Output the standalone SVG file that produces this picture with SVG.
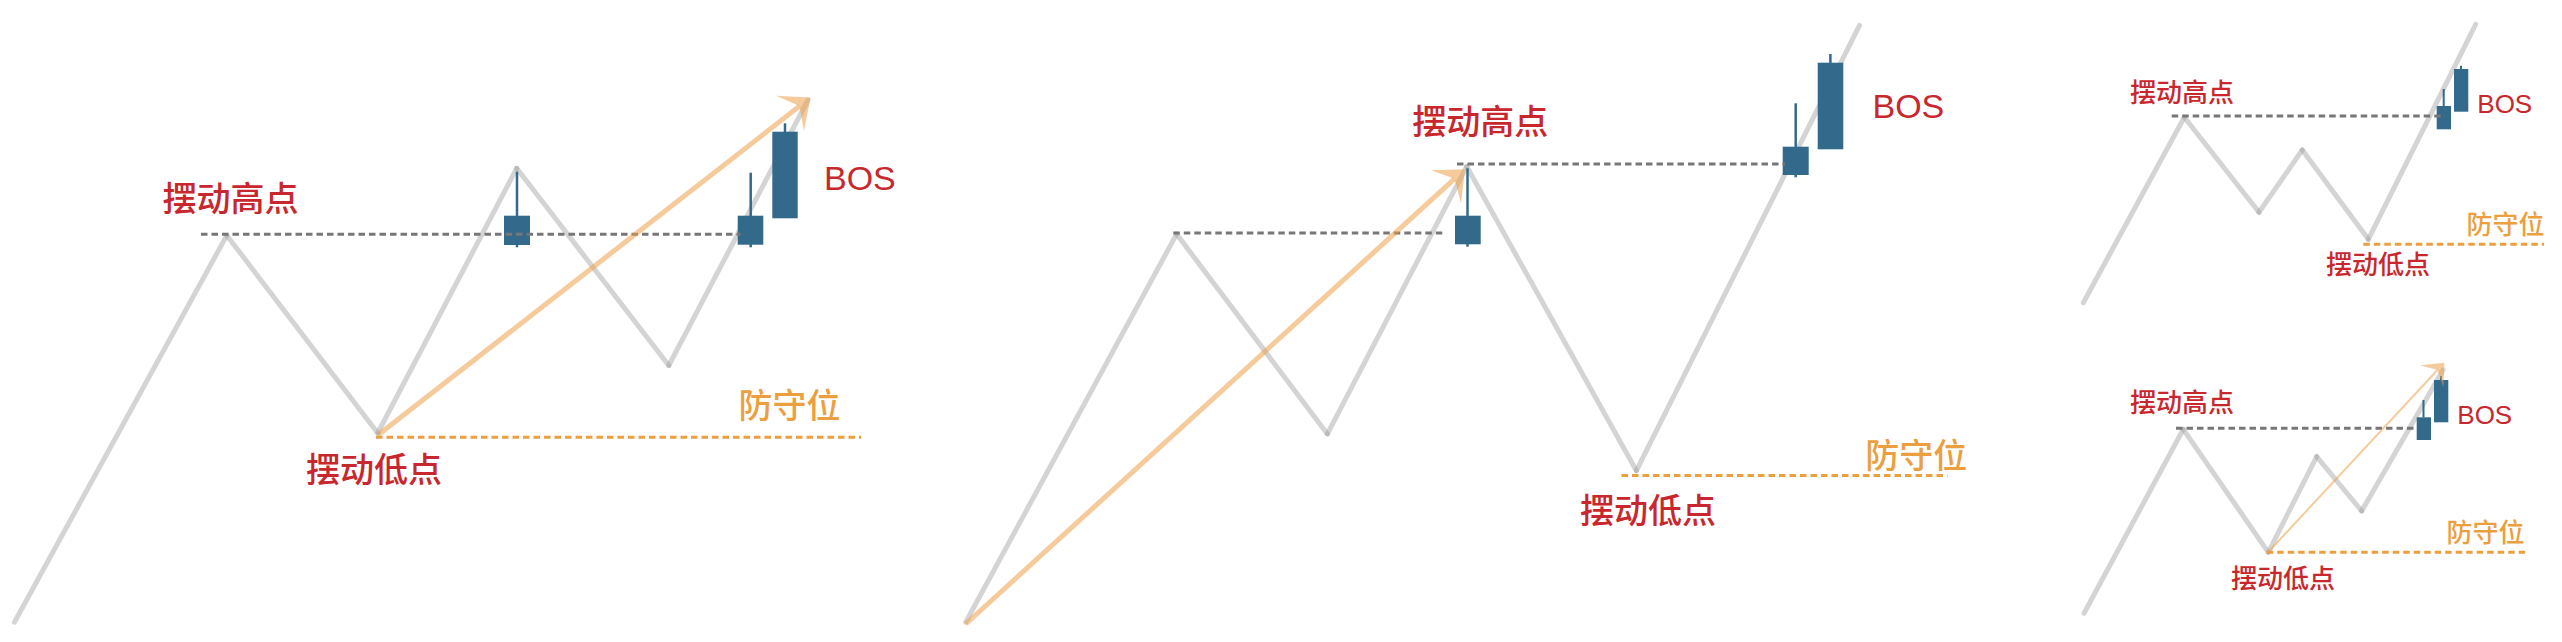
<svg xmlns="http://www.w3.org/2000/svg" width="2562" height="642" viewBox="0 0 2562 642">
<style>
.bg{fill:#ffffff}
.zz{stroke:#999999;stroke-opacity:0.42;stroke-width:5;stroke-linecap:round;fill:none}
.gd{stroke:#777777;stroke-width:3;stroke-dasharray:6.5 4;fill:none}
.od{stroke:#eb9f3f;stroke-width:3;stroke-dasharray:6.5 4;fill:none}
.body{fill:#336a8b}
.wick{stroke:#336a8b;stroke-width:2.5}
.wick.s{stroke-width:2}
.arr{stroke:#eda14a;stroke-opacity:0.55;stroke-width:5;fill:none}
.arr.s{stroke-width:2}
.cjk{font-family:"Noto Sans CJK SC","Noto Sans",sans-serif;font-weight:500}
.lat{font-family:"Liberation Sans",Arial,sans-serif}
.red{fill:#c8282d}
.org{fill:#eb9f3f}
.big{font-size:34px}
.sm{font-size:26px}
</style>
<defs>
<marker id="ahBig" viewBox="0 -23 26 46" markerWidth="26" markerHeight="46" refX="12" refY="0" orient="auto" markerUnits="userSpaceOnUse">
<path d="M0,-22.5 L26,0 L0,22.5 L12,0 Z" fill="#eda14a" fill-opacity="0.55"/>
</marker>
<marker id="ahSm" viewBox="0 -16 19 32" markerWidth="19" markerHeight="32" refX="8.5" refY="0" orient="auto" markerUnits="userSpaceOnUse">
<path d="M0,-16 L18.5,0 L0,16 L8.5,0 Z" fill="#eda14a" fill-opacity="0.55"/>
</marker>
</defs>
<rect class="bg" x="0" y="0" width="2562" height="642"/>

<!-- Panel 1 -->
<g id="panel1">
<g id="p1-price">
<line class="zz" x1="14.4" y1="622.2" x2="226.8" y2="235.4"/>
<line class="zz" x1="226.8" y1="235.4" x2="377.7" y2="433"/>
<line class="zz" x1="377.7" y1="433" x2="516.7" y2="168.3"/>
<line class="zz" x1="516.7" y1="168.3" x2="668.8" y2="365.5"/>
<line class="zz" x1="668.8" y1="365.5" x2="808" y2="100"/>
</g>
<g id="p1-candles">
<g id="p1-candleA"><line class="wick" x1="517" y1="171.7" x2="517" y2="247.3"/><rect class="body" x="504" y="215.7" width="26" height="29.3"/></g>
<g id="p1-candleB"><line class="wick" x1="750.7" y1="172.7" x2="750.7" y2="247.3"/><rect class="body" x="737.7" y="215.7" width="25.6" height="29"/></g>
<g id="p1-candleC"><line class="wick" x1="785" y1="123.3" x2="785" y2="132"/><rect class="body" x="772.3" y="131.7" width="25.4" height="86.6"/></g>
</g>
<g id="p1-connectors">
<line class="gd" x1="201" y1="234.3" x2="740.5" y2="234.3"/>
<line class="od" x1="376" y1="437.2" x2="861" y2="437.2"/>
<line class="arr" x1="378" y1="435" x2="799.5" y2="106.1" marker-end="url(#ahBig)"/>
</g>
<g id="p1-labels">
<text id="p1-high" class="cjk red big" x="162.5" y="210.5">摆动高点</text>
<text id="p1-low" class="cjk red big" x="306" y="481.6">摆动低点</text>
<text id="p1-def" class="cjk org big" x="738.4" y="418.4">防守位</text>
<text id="p1-bos" class="lat red big" x="824" y="190">BOS</text>
</g>
</g>

<!-- Panel 2 -->
<g id="panel2">
<g id="p2-price">
<line class="zz" x1="965.7" y1="622.2" x2="1176.6" y2="234.1"/>
<line class="zz" x1="1176.6" y1="234.1" x2="1327.4" y2="433.9"/>
<line class="zz" x1="1327.4" y1="433.9" x2="1466.7" y2="166.5"/>
<line class="zz" x1="1466.7" y1="166.5" x2="1636.4" y2="470.7"/>
<line class="zz" x1="1636.4" y1="470.7" x2="1859.5" y2="25.4"/>
</g>
<g id="p2-candles">
<g id="p2-candleA"><line class="wick" x1="1467.5" y1="168.3" x2="1467.5" y2="246.7"/><rect class="body" x="1455" y="215.7" width="25.7" height="28.6"/></g>
<g id="p2-candleB"><line class="wick" x1="1795.7" y1="103.3" x2="1795.7" y2="177.3"/><rect class="body" x="1782.7" y="146.7" width="26" height="28.3"/></g>
<g id="p2-candleC"><line class="wick" x1="1830.4" y1="54" x2="1830.4" y2="63"/><rect class="body" x="1817.7" y="62.7" width="25.6" height="86.6"/></g>
</g>
<g id="p2-connectors">
<line class="gd" x1="1173.3" y1="232.9" x2="1444" y2="232.9"/>
<line class="gd" x1="1457" y1="164" x2="1785" y2="164"/>
<line class="od" x1="1621.5" y1="475.6" x2="1947.4" y2="475.6"/>
<line class="arr" x1="965.7" y1="624" x2="1454.7" y2="178.7" marker-end="url(#ahBig)"/>
</g>
<g id="p2-labels">
<text id="p2-high" class="cjk red big" x="1412.3" y="133.9">摆动高点</text>
<text id="p2-low" class="cjk red big" x="1580" y="522.6">摆动低点</text>
<text id="p2-def" class="cjk org big" x="1865.3" y="467.6">防守位</text>
<text id="p2-bos" class="lat red big" x="1872.5" y="117.5">BOS</text>
</g>
</g>

<!-- Panel 3 -->
<g id="panel3">
<g id="p3-price">
<line class="zz" x1="2083.3" y1="302.7" x2="2184.3" y2="117.3"/>
<line class="zz" x1="2184.3" y1="117.3" x2="2259" y2="212.3"/>
<line class="zz" x1="2259" y1="212.3" x2="2302.3" y2="150"/>
<line class="zz" x1="2302.3" y1="150" x2="2368.3" y2="239.3"/>
<line class="zz" x1="2368.3" y1="239.3" x2="2475.7" y2="24.3"/>
</g>
<g id="p3-candles">
<g id="p3-candleA"><line class="wick s" x1="2443.7" y1="89" x2="2443.7" y2="106.5"/><rect class="body" x="2436.7" y="106" width="14.3" height="23.3"/></g>
<g id="p3-candleB"><line class="wick s" x1="2461" y1="65.7" x2="2461" y2="69.5"/><rect class="body" x="2454" y="69" width="14.3" height="42.7"/></g>
</g>
<g id="p3-connectors">
<line class="gd" x1="2171.7" y1="116" x2="2445" y2="116"/>
<line class="od" x1="2363.3" y1="244.3" x2="2544" y2="244.3"/>
</g>
<g id="p3-labels">
<text id="p3-high" class="cjk red sm" x="2130" y="101.5">摆动高点</text>
<text id="p3-low" class="cjk red sm" x="2326" y="274.2">摆动低点</text>
<text id="p3-def" class="cjk org sm" x="2466.5" y="234.2">防守位</text>
<text id="p3-bos" class="lat red sm" x="2477.3" y="112.7">BOS</text>
</g>
</g>

<!-- Panel 4 -->
<g id="panel4">
<g id="p4-price">
<line class="zz" x1="2084" y1="613.3" x2="2183.3" y2="429.3"/>
<line class="zz" x1="2183.3" y1="429.3" x2="2268.3" y2="552.3"/>
<line class="zz" x1="2268.3" y1="552.3" x2="2316.7" y2="456.7"/>
<line class="zz" x1="2316.7" y1="456.7" x2="2361.7" y2="511"/>
<line class="zz" x1="2361.7" y1="511" x2="2443" y2="370"/>
</g>
<g id="p4-candles">
<g id="p4-candleA"><line class="wick s" x1="2423.5" y1="400" x2="2423.5" y2="417.5"/><rect class="body" x="2416.7" y="417.3" width="14.3" height="22.7"/></g>
<g id="p4-candleB"><line class="wick s" x1="2441" y1="376" x2="2441" y2="380.5"/><rect class="body" x="2434" y="380" width="14.3" height="42.3"/></g>
</g>
<g id="p4-connectors">
<line class="gd" x1="2176" y1="428.3" x2="2416.7" y2="428.3"/>
<line class="od" x1="2266.7" y1="552.3" x2="2525" y2="552.3"/>
<line class="arr s" x1="2268.3" y1="552" x2="2437.5" y2="370" marker-end="url(#ahSm)"/>
</g>
<g id="p4-labels">
<text id="p4-high" class="cjk red sm" x="2130" y="412.2">摆动高点</text>
<text id="p4-low" class="cjk red sm" x="2231" y="588.2">摆动低点</text>
<text id="p4-def" class="cjk org sm" x="2446.5" y="541.5">防守位</text>
<text id="p4-bos" class="lat red sm" x="2457.3" y="424">BOS</text>
</g>
</g>
</svg>
